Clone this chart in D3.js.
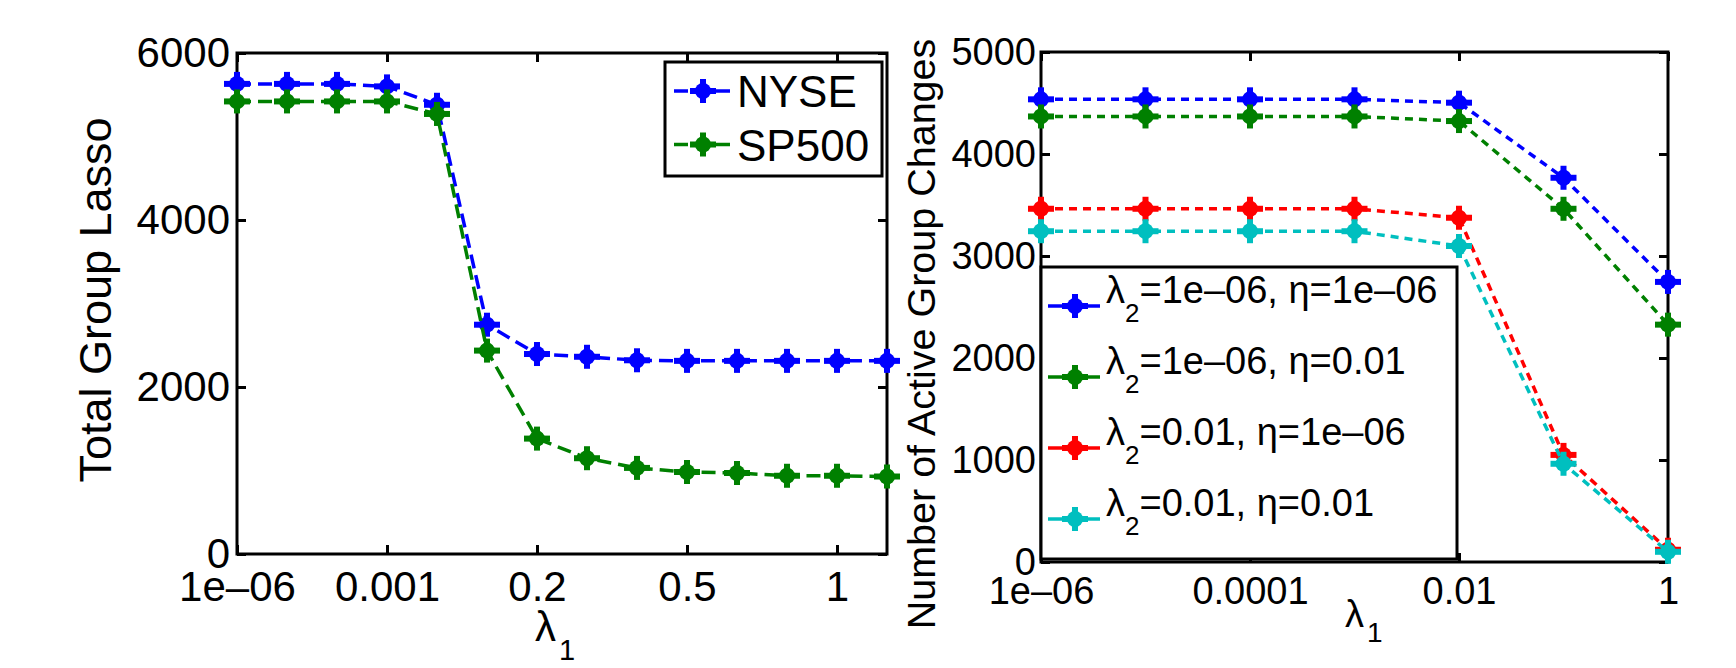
<!DOCTYPE html>
<html lang="en">
<head>
<meta charset="UTF-8">
<title>Group Lasso vs lambda_1</title>
<script src="https://d3js.org/d3.v7.min.js"></script>
<style>
  body { margin: 0; background: #fff; }
  svg text { font-family: "Liberation Sans", Arial, Helvetica, sans-serif; fill: #000; }
</style>
</head>
<body>
<svg id="chart" width="1736" height="668"></svg>
<script>
// ---- left panel: total group lasso ----
const leftSteps = [0, 1, 2, 3, 4, 5, 6, 7, 8, 9, 10, 11, 12, 13];
const leftTickPos = [0, 3, 6, 9, 12];
const leftTickLabels = ["1e–06", "0.001", "0.2", "0.5", "1"];
const leftYTicks = [0, 2000, 4000, 6000];
const nyse  = [5630, 5630, 5630, 5600, 5380, 2746, 2395, 2362, 2320, 2313, 2313, 2313, 2313, 2313];
const sp500 = [5420, 5420, 5420, 5420, 5270, 2436, 1382, 1147, 1031, 982, 970, 937, 937, 928];
const leftNames = ["NYSE", "SP500"];

// ---- right panel: number of active group changes ----
const rightSteps = [0, 1, 2, 3, 4, 5, 6];
const rightTickPos = [0, 2, 4, 6];
const rightTickLabels = ["1e–06", "0.0001", "0.01", "1"];
const rightYTicks = [0, 1000, 2000, 3000, 4000, 5000];
const lam2Small_etaSmall = [4536, 4536, 4536, 4536, 4503, 3767, 2746];
const lam2Small_etaBig   = [4368, 4368, 4368, 4368, 4323, 3463, 2327];
const lam2Big_etaSmall   = [3463, 3463, 3463, 3463, 3375, 1050, 120];
const lam2Big_etaBig     = [3243, 3243, 3243, 3243, 3098, 963, 100];
const rightLam2 = ["1e–06", "1e–06", "0.01", "0.01"];
const rightEta  = ["1e–06", "0.01", "1e–06", "0.01"];

const colors = ["#0000ff", "#008000", "#ff0000", "#00bfbf"];

const svg = d3.select("#chart");
svg.append("rect").attr("width", 1736).attr("height", 668).attr("fill", "#fff");

function drawMarkers(g, pts, color) {
  const m = g.selectAll(null).data(pts).enter().append("g")
    .attr("transform", d => `translate(${d[0]},${d[1]})`);
  m.append("rect").attr("x", -13).attr("y", -3).attr("width", 26).attr("height", 6).attr("fill", color);
  m.append("rect").attr("x", -3).attr("y", -12).attr("width", 6).attr("height", 24).attr("fill", color);
  m.append("circle").attr("r", 8).attr("fill", color);
}

function drawBox(g, x, y, xTicks, xLabels, yTicks, fs, xPad, yPad) {
  const [x0, x1] = x.range(), [y0, y1] = y.range();
  const bottom = g.append("g").attr("transform", `translate(0,${y0})`)
    .call(d3.axisBottom(x).tickValues(xTicks).tickFormat((d, i) => xLabels[i])
      .tickSizeInner(-9).tickSizeOuter(0).tickPadding(xPad));
  const top = g.append("g").attr("transform", `translate(0,${y1})`)
    .call(d3.axisTop(x).tickValues(xTicks).tickFormat("").tickSizeInner(-9).tickSizeOuter(0));
  const left = g.append("g").attr("transform", `translate(${x0},0)`)
    .call(d3.axisLeft(y).tickValues(yTicks).tickFormat(d3.format("d"))
      .tickSizeInner(-9).tickSizeOuter(0).tickPadding(yPad));
  const right = g.append("g").attr("transform", `translate(${x1},0)`)
    .call(d3.axisRight(y).tickValues(yTicks).tickFormat("").tickSizeInner(-9).tickSizeOuter(0));
  [bottom, top, left, right].forEach(a => {
    a.select(".domain").remove();
    a.selectAll("line").attr("stroke", "#000").attr("stroke-width", 3);
    a.selectAll("text").attr("font-size", fs).attr("fill", "#000")
      .style("font-family", '"Liberation Sans", Arial, sans-serif');
  });
  g.append("rect").attr("x", x0).attr("y", y1).attr("width", x1 - x0).attr("height", y0 - y1)
    .attr("fill", "none").attr("stroke", "#000").attr("stroke-width", 3);
}

// ===== left chart =====
const xL = d3.scaleLinear().domain([0, 13]).range([237, 887]);
const yL = d3.scaleLinear().domain([0, 6000]).range([554, 53]);
const gL = svg.append("g");
drawBox(gL, xL, yL, leftTickPos, leftTickLabels, leftYTicks, 42, 17, 7);

const lineL = d3.line().x(d => xL(d[0])).y(d => yL(d[1]));
[nyse, sp500].forEach((s, k) => {
  const pts = leftSteps.map((t, i) => [t, s[i]]);
  gL.append("path").datum(pts).attr("d", lineL).attr("fill", "none")
    .attr("stroke", colors[k]).attr("stroke-width", 3.5).attr("stroke-dasharray", "14,7");
  drawMarkers(gL, pts.map(p => [xL(p[0]), yL(p[1])]), colors[k]);
});

gL.append("text").attr("transform", "translate(111,300) rotate(-90)")
  .attr("text-anchor", "middle").attr("font-size", 45).text("Total Group Lasso");
const lamL = gL.append("text").attr("x", 535).attr("y", 641).attr("font-size", 42);
lamL.append("tspan").text("λ");
lamL.append("tspan").attr("dx", 3).attr("dy", 19).attr("font-size", 29).text("1");

// left legend
const legL = gL.append("g");
legL.append("rect").attr("x", 665).attr("y", 62).attr("width", 217).attr("height", 114)
  .attr("fill", "#fff").attr("stroke", "#000").attr("stroke-width", 3);
leftNames.forEach((n, k) => {
  const ly = 91 + k * 53.5;
  legL.append("line").attr("x1", 674).attr("x2", 731).attr("y1", ly).attr("y2", ly)
    .attr("stroke", colors[k]).attr("stroke-width", 3.5).attr("stroke-dasharray", "14,7");
  drawMarkers(legL, [[703, ly]], colors[k]);
  legL.append("text").attr("x", 737).attr("y", ly + 16).attr("font-size", 44).text(n);
});

// ===== right chart =====
const xR = d3.scaleLinear().domain([0, 6]).range([1041, 1668]);
const yR = d3.scaleLinear().domain([0, 5000]).range([562, 52]);
const gR = svg.append("g");
drawBox(gR, xR, yR, rightTickPos, rightTickLabels, rightYTicks, 38, 15, 5);

const lineR = d3.line().x(d => xR(d[0])).y(d => yR(d[1]));
[lam2Small_etaSmall, lam2Small_etaBig, lam2Big_etaSmall, lam2Big_etaBig].forEach((s, k) => {
  const pts = rightSteps.map((t, i) => [t, s[i]]);
  gR.append("path").datum(pts).attr("d", lineR).attr("fill", "none")
    .attr("stroke", colors[k]).attr("stroke-width", 3.5).attr("stroke-dasharray", "8,6");
  drawMarkers(gR, pts.map(p => [xR(p[0]), yR(p[1])]), colors[k]);
});

gR.append("text").attr("transform", "translate(935,334) rotate(-90)")
  .attr("text-anchor", "middle").attr("font-size", 39.5).text("Number of Active Group Changes");
const lamR = gR.append("text").attr("x", 1345).attr("y", 627).attr("font-size", 38);
lamR.append("tspan").text("λ");
lamR.append("tspan").attr("dx", 3).attr("dy", 15).attr("font-size", 28).text("1");

// right legend
const legR = gR.append("g");
legR.append("rect").attr("x", 1041).attr("y", 267).attr("width", 416).attr("height", 292)
  .attr("fill", "#fff").attr("stroke", "#000").attr("stroke-width", 3);
rightLam2.forEach((l2, k) => {
  const ly = 306 + k * 71;
  legR.append("line").attr("x1", 1048).attr("x2", 1100).attr("y1", ly).attr("y2", ly)
    .attr("stroke", colors[k]).attr("stroke-width", 3.5);
  drawMarkers(legR, [[1075, ly]], colors[k]);
  const t = legR.append("text").attr("x", 1106).attr("y", ly - 3).attr("font-size", 38);
  t.append("tspan").text("λ");
  t.append("tspan").attr("dy", 19).attr("font-size", 26).text("2");
  t.append("tspan").attr("dy", -19).text(`=${l2}, η=${rightEta[k]}`);
});
</script>
</body>
</html>
